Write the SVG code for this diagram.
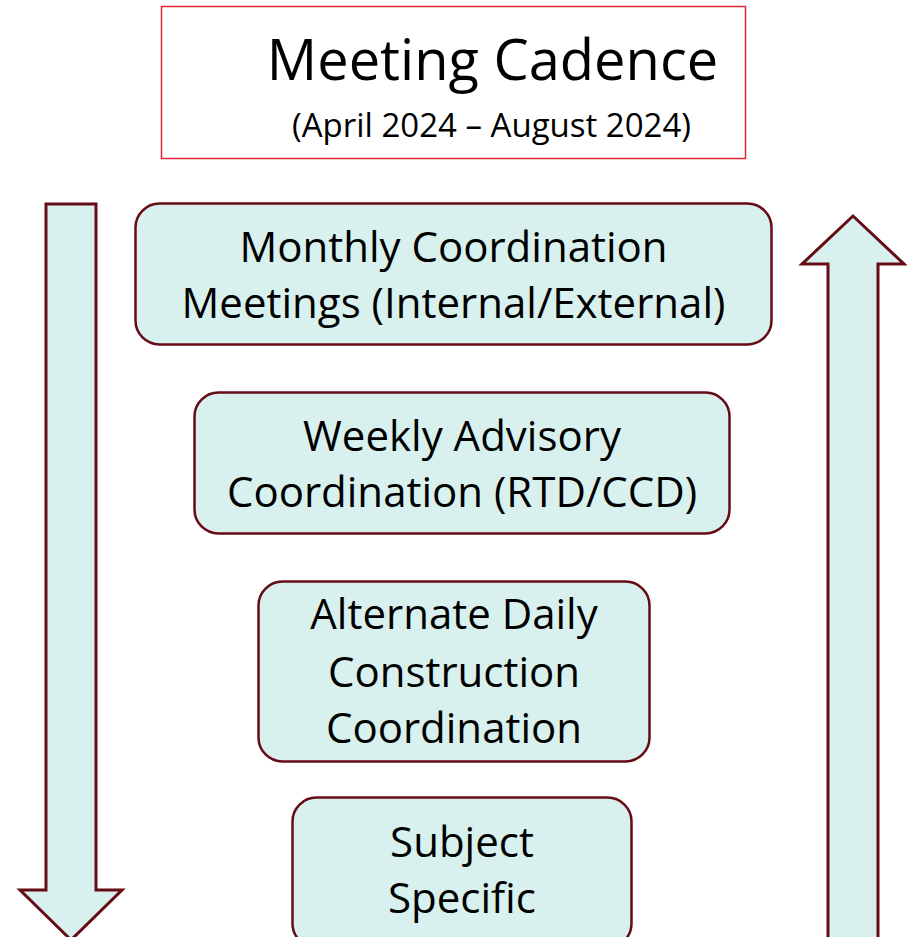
<svg xmlns="http://www.w3.org/2000/svg" width="907" height="937" viewBox="0 0 907 937">
<style>
.node{fill:#d8f1ee;stroke:#650c17;stroke-width:2.5}
.arrow{fill:#d8f1ee;stroke:#650c17;stroke-width:3;stroke-linejoin:miter}
text{font-family:"Open Sans","Noto Sans","DejaVu Sans",sans-serif;fill:#000;text-anchor:middle}
.lbl{font-size:42px}
</style>
<rect width="907" height="937" fill="#fff"/>
<g id="title">
<rect x="161.5" y="6.5" width="584" height="152" fill="#fff" stroke="#e0263c" stroke-width="1.5"/>
<text x="492.5" y="80" font-size="56">Meeting Cadence</text>
<text x="491.5" y="137" font-size="33">(April 2024 – August 2024)</text>
</g>
<g id="connectors">
<path id="down-arrow" class="arrow" d="M46,204 L96,204 L96,890 L122,890 L71,940 L20,890 L46,890 Z"/>
<path id="up-arrow" class="arrow" d="M853,216 L904,264 L878,264 L878,945 L828,945 L828,264 L802,264 Z"/>
</g>
<g id="monthly">
<rect class="node" x="135.5" y="203.5" width="636" height="141" rx="24"/>
<text class="lbl" x="453.5" y="262">Monthly Coordination</text>
<text class="lbl" x="453.5" y="318">Meetings (Internal/External)</text>
</g>
<g id="weekly">
<rect class="node" x="194.5" y="392.5" width="535" height="141" rx="24"/>
<text class="lbl" x="462" y="451">Weekly Advisory</text>
<text class="lbl" x="462" y="507">Coordination (RTD/CCD)</text>
</g>
<g id="daily">
<rect class="node" x="258.5" y="581.5" width="391" height="180" rx="24"/>
<text class="lbl" x="454" y="629">Alternate Daily</text>
<text class="lbl" x="454" y="687">Construction</text>
<text class="lbl" x="454" y="743">Coordination</text>
</g>
<g id="subject">
<rect class="node" x="292.5" y="797.5" width="339" height="150" rx="24"/>
<text class="lbl" x="462" y="857">Subject</text>
<text class="lbl" x="462" y="913">Specific</text>
</g>
</svg>
